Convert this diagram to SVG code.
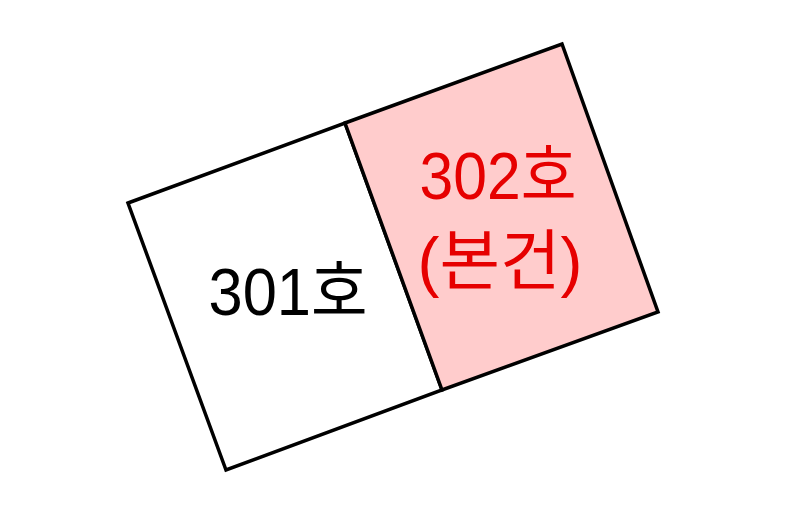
<svg xmlns="http://www.w3.org/2000/svg" width="800" height="512" viewBox="0 0 800 512">
<style>
.room{stroke:#000;stroke-width:3.5;stroke-linejoin:miter}
.t{font-family:"Liberation Sans","Noto Sans CJK KR",sans-serif;font-size:66px;text-anchor:middle}
</style>
<rect width="800" height="512" fill="#fff"/>
<g id="room301">
<polygon class="room" fill="#fff" points="128,203 345,123 442,390 226,470"/>
<text class="t" x="288" y="315" fill="#000" textLength="159" lengthAdjust="spacingAndGlyphs">301호</text>
</g>
<g id="room302">
<polygon class="room" fill="#ffcccc" points="345,123 562,44 658,312 442,390"/>
<text class="t" x="498" y="199" fill="#e60000" textLength="157" lengthAdjust="spacingAndGlyphs">302호</text>
<text class="t" x="500" y="284" fill="#e60000" textLength="165" lengthAdjust="spacingAndGlyphs">(본건)</text>
</g>
</svg>
